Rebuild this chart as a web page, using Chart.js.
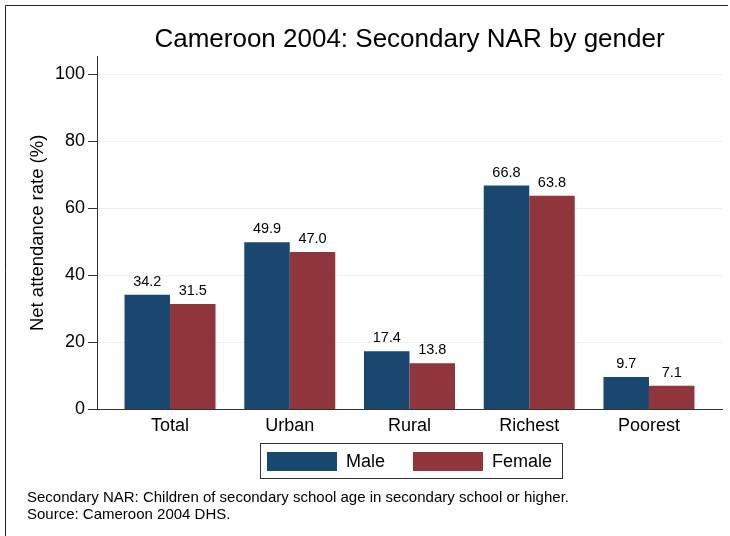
<!DOCTYPE html>
<html>
<head>
<meta charset="utf-8">
<title>Cameroon 2004: Secondary NAR by gender</title>
<script src="https://cdn.jsdelivr.net/npm/chart.js@4.4.0/dist/chart.umd.min.js"></script>
<style>
  html, body { margin: 0; padding: 0; background: #fff; }
</style>
</head>
<body>
<canvas id="chart" width="730" height="536"></canvas>
<script>
  // ---- data ----
  const categories = ["Total", "Urban", "Rural", "Richest", "Poorest"];
  const maleNAR    = [34.2, 49.9, 17.4, 66.8, 9.7];
  const femaleNAR  = [31.5, 47.0, 13.8, 63.8, 7.1];
  const yTicks     = [0, 20, 40, 60, 80, 100];
  const notes = [
    "Secondary NAR: Children of secondary school age in secondary school or higher.",
    "Source: Cameroon 2004 DHS."
  ];

  const FONT = '"Liberation Sans", Arial, sans-serif';
  Chart.defaults.font.family = FONT;
  Chart.defaults.color = "#000";

  // value labels above each bar
  const barValues = {
    id: "barValues",
    afterDatasetsDraw(chart) {
      const ctx = chart.ctx;
      ctx.save();
      ctx.font = "14.5px " + FONT;
      ctx.fillStyle = "#000";
      ctx.textAlign = "center";
      ctx.textBaseline = "middle";
      chart.data.datasets.forEach((ds, di) => {
        chart.getDatasetMeta(di).data.forEach((bar, i) => {
          ctx.fillText(ds.data[i].y.toFixed(1), bar.x, bar.y - 13);
        });
      });
      ctx.restore();
    }
  };

  // legend uses labels.padding both as item gap and as top padding;
  // pull the legend and the notes up so they sit snug under the axis labels
  const LEGEND_LIFT = 19;
  const NOTES_LIFT = 11;
  const tightenBottom = {
    id: "tightenBottom",
    afterLayout(chart) {
      chart.boxes.forEach(b => {
        if (b instanceof Chart.Scale || b.position !== "bottom") return;
        const lift = b === chart.legend ? LEGEND_LIFT : NOTES_LIFT;
        b.top -= lift;
        b.bottom -= lift;
      });
    }
  };

  // box round the legend + the outer frame (top and left edges only, like the export)
  const frames = {
    id: "frames",
    afterDraw(chart) {
      const ctx = chart.ctx;
      const hb = chart.legend.legendHitBoxes;
      ctx.save();
      ctx.strokeStyle = "#333";
      ctx.lineWidth = 1;
      if (hb && hb.length) {
        const l = Math.min(...hb.map(b => b.left)) - 7;
        const r = Math.max(...hb.map(b => b.left + b.width)) + 10;
        const t = Math.min(...hb.map(b => b.top)) - 9;
        const btm = Math.max(...hb.map(b => b.top + b.height)) + 7;
        ctx.strokeRect(Math.round(l) + 0.5, Math.round(t) + 0.5, Math.round(r - l), Math.round(btm - t));
      }
      ctx.strokeStyle = "#222";
      ctx.beginPath();
      ctx.moveTo(5.5, chart.height);
      ctx.lineTo(5.5, 5.5);
      ctx.lineTo(chart.width - 2, 5.5);
      ctx.stroke();
      ctx.restore();
    }
  };

  new Chart(document.getElementById("chart").getContext("2d"), {
    type: "bar",
    data: {
      datasets: [
        { label: "Male",   data: maleNAR.map((v, i) => ({ x: i, y: v })),   backgroundColor: "#1a476f",
          borderWidth: 0, categoryPercentage: 0.76, barPercentage: 1 },
        { label: "Female", data: femaleNAR.map((v, i) => ({ x: i, y: v })), backgroundColor: "#90353b",
          borderWidth: 0, categoryPercentage: 0.76, barPercentage: 1 }
      ]
    },
    options: {
      responsive: false,
      animation: false,
      layout: { padding: { top: 8, left: 27, right: 8, bottom: 2 } },
      plugins: {
        tooltip: { enabled: false },
        title: {
          display: true, fullSize: false,
          text: "Cameroon 2004: Secondary NAR by gender",
          font: { size: 26, weight: "normal", lineHeight: 1.2 },
          color: "#000",
          padding: { top: 16, bottom: 1 }
        },
        legend: {
          position: "bottom", fullSize: false,
          labels: { boxWidth: 70, boxHeight: 19, padding: 28, font: { size: 18 }, color: "#000" }
        },
        subtitle: {
          display: true, position: "bottom", align: "start",
          text: notes,
          font: { size: 15, lineHeight: 1.13 },
          color: "#000",
          padding: { top: 0, bottom: 0 }
        }
      },
      scales: {
        x: {
          type: "linear", min: -0.61, max: 4.61, offset: false,
          afterBuildTicks: s => { s.ticks = categories.map((c, i) => ({ value: i })); },
          grid: { display: false, drawTicks: false, offset: false },
          border: { color: "#333", width: 1 },
          ticks: { padding: 6, autoSkip: false, maxRotation: 0, font: { size: 18 }, color: "#000",
                   callback: v => categories[v] ?? "" }
        },
        y: {
          min: 0, max: 105.4,
          afterBuildTicks: s => { s.ticks = yTicks.map(v => ({ value: v })); },
          afterFit: s => { s.width = 70; },
          grid: { color: "#eaf2f3", lineWidth: 1, tickColor: "#333", tickLength: 9 },
          border: { color: "#333", width: 1 },
          ticks: { padding: 3, font: { size: 18 }, color: "#000" },
          title: { display: true, text: "Net attendance rate (%)", font: { size: 18.5 }, color: "#000",
                   padding: { top: 0, bottom: 0 } }
        }
      }
    },
    plugins: [barValues, tightenBottom, frames]
  });
</script>
</body>
</html>
